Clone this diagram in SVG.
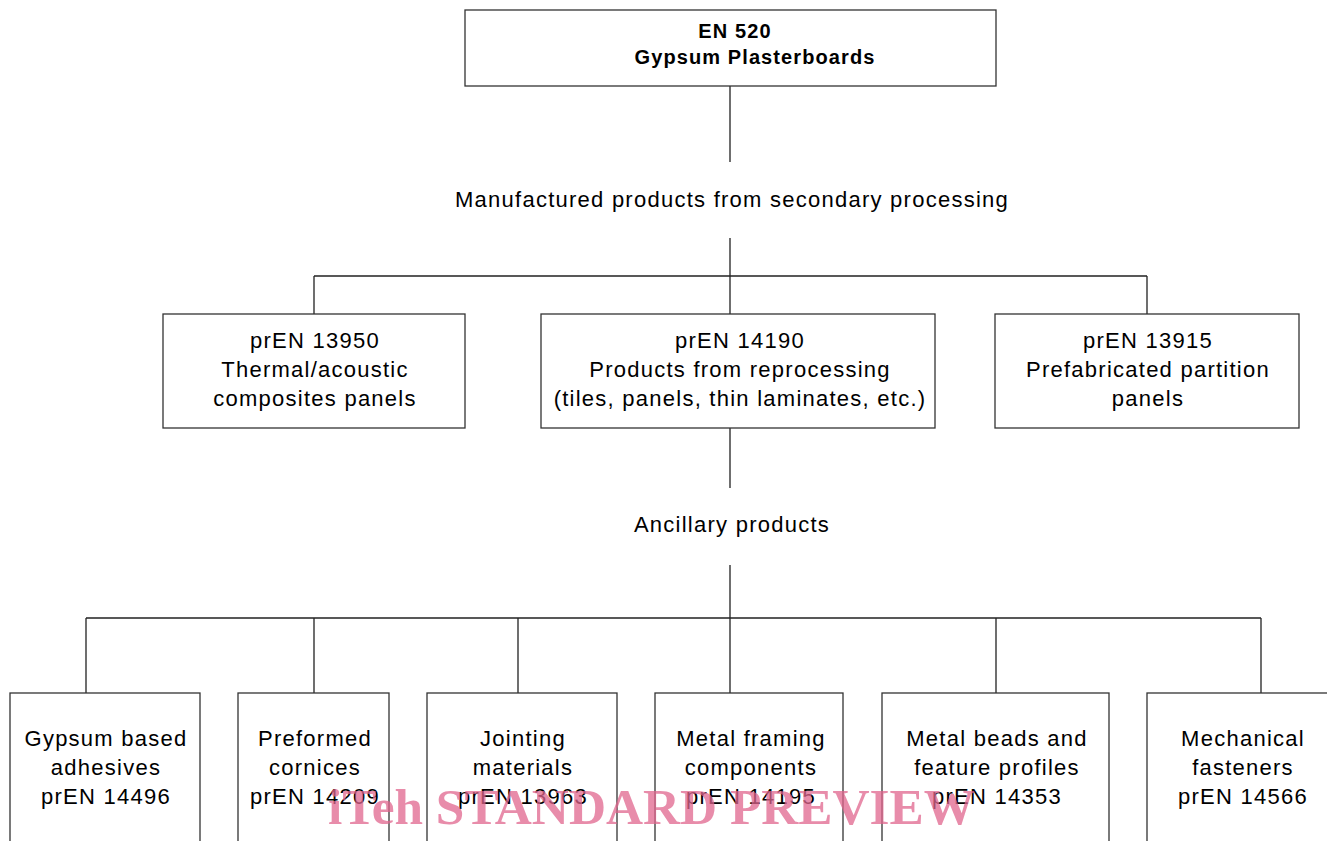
<svg xmlns="http://www.w3.org/2000/svg" width="1327" height="841" viewBox="0 0 1327 841">
<style>
.box{fill:#fff;stroke:#333;stroke-width:1.3}
.ln{stroke:#222;stroke-width:1.3;fill:none}
text{font-family:"Liberation Sans",Arial,sans-serif;font-size:22px;letter-spacing:1.25px;fill:#000;text-anchor:middle}
.b{font-weight:bold;font-size:20px;letter-spacing:1.1px}
.wm{font-family:"Liberation Serif","Times New Roman",serif;font-weight:bold;font-size:50px;letter-spacing:0;fill:#e0668e;fill-opacity:0.75;text-anchor:start}
</style>
<rect width="1327" height="841" fill="#fff"/>
<g id="connectors">
<path class="ln" d="M730 86V162M730 238V276M314 276H1147M314 276V314M730 276V314M1147 276V314M730 428V488M730 565V618M86 618H1261M86 618V693M314 618V693M518 618V693M730 618V693M996 618V693M1261 618V693"/>
</g>
<g id="top"><rect class="box" x="465" y="10" width="531" height="76"/>
<text class="b" x="735" y="38">EN 520</text><text class="b" x="755" y="64">Gypsum Plasterboards</text></g>
<g id="label1"><text x="732" y="207">Manufactured products from secondary processing</text></g>
<g id="n13950"><rect class="box" x="163" y="314" width="302" height="114"/>
<text x="315" y="348">prEN 13950</text><text x="315" y="377">Thermal/acoustic</text><text x="315" y="406">composites panels</text></g>
<g id="n14190"><rect class="box" x="541" y="314" width="394" height="114"/>
<text x="740" y="348">prEN 14190</text><text x="740" y="377">Products from reprocessing</text><text x="740" y="406">(tiles, panels, thin laminates, etc.)</text></g>
<g id="n13915"><rect class="box" x="995" y="314" width="304" height="114"/>
<text x="1148" y="348">prEN 13915</text><text x="1148" y="377">Prefabricated partition</text><text x="1148" y="406">panels</text></g>
<g id="label2"><text x="732" y="532">Ancillary products</text></g>
<g id="n14496"><rect class="box" x="10" y="693" width="190" height="160"/>
<text x="106" y="746">Gypsum based</text><text x="106" y="775">adhesives</text><text x="106" y="804">prEN 14496</text></g>
<g id="n14209"><rect class="box" x="238" y="693" width="151" height="160"/>
<text x="315" y="746">Preformed</text><text x="315" y="775">cornices</text><text x="315" y="804">prEN 14209</text></g>
<g id="n13963"><rect class="box" x="427" y="693" width="190" height="160"/>
<text x="523" y="746">Jointing</text><text x="523" y="775">materials</text><text x="523" y="804">prEN 13963</text></g>
<g id="n14195"><rect class="box" x="655" y="693" width="188" height="160"/>
<text x="751" y="746">Metal framing</text><text x="751" y="775">components</text><text x="751" y="804">prEN 14195</text></g>
<g id="n14353"><rect class="box" x="882" y="693" width="227" height="160"/>
<text x="997" y="746">Metal beads and</text><text x="997" y="775">feature profiles</text><text x="997" y="804">prEN 14353</text></g>
<g id="n14566"><rect class="box" x="1147" y="693" width="190" height="160"/>
<text x="1243" y="746">Mechanical</text><text x="1243" y="775">fasteners</text><text x="1243" y="804">prEN 14566</text></g>
<text class="wm" x="328" y="824" textLength="647" lengthAdjust="spacingAndGlyphs">iTeh STANDARD PREVIEW</text>
</svg>
